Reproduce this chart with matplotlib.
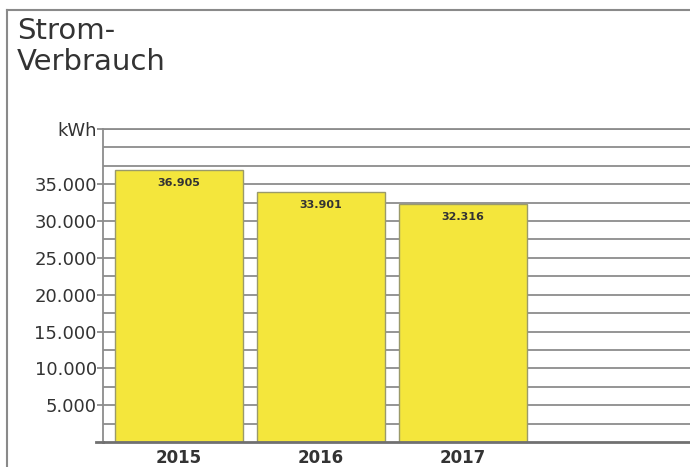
import matplotlib
matplotlib.use("Agg")
import matplotlib.pyplot as plt
from matplotlib.lines import Line2D
import numpy as np

years = ["2015", "2016", "2017"]
values = [36905, 33901, 32316]
value_labels = ["36.905", "33.901", "32.316"]
tick_values = [5000, 10000, 15000, 20000, 25000, 30000, 35000]
tick_labels = ["5.000", "10.000", "15.000", "20.000", "25.000", "30.000", "35.000"]
unit_label = "kWh"
title = "Strom-\nVerbrauch"

W, H = 690, 467
fig = plt.figure(figsize=(W / 100, H / 100), dpi=100)
fig.patch.set_facecolor("white")

# outer frame
fig.add_artist(Line2D([7 / W, 1.0], [1 - 10 / H, 1 - 10 / H], color="#8a8a8a", lw=1.5))
fig.add_artist(Line2D([7 / W, 7 / W], [0, 1 - 10 / H], color="#8a8a8a", lw=1.5))

fig.text(17 / W, 1 - 17 / H, title, ha="left", va="top", fontsize=21,
         color="#333333", linespacing=1.15)

left, right, bottom, top = 103 / W, 1.0, 1 - 442 / H, 1 - 129 / H
ax = fig.add_axes([left, bottom, right - left, top - bottom])
ax.set_facecolor("white")

x = np.arange(len(years))
ax.set_xlim(-0.535, 3.6)
ax.set_ylim(0, 42500)

ax.set_yticks(np.arange(2500, 42501, 2500), minor=True)
ax.yaxis.grid(True, which="both", color="#8c8c8c", lw=1.3)
ax.set_axisbelow(True)

ax.bar(x, values, width=0.9, color="#f4e63c", edgecolor="#9a9a6a", linewidth=1.0, zorder=2)

for xi, v, lab in zip(x, values, value_labels):
    ax.annotate(lab, (xi, v), xytext=(0, -9), textcoords="offset points",
                ha="center", va="center", fontsize=8, fontweight="bold",
                color="#333333", zorder=3)

ax.set_yticks(tick_values + [42500])
ax.set_yticklabels(tick_labels + [unit_label])
ax.tick_params(axis="y", which="major", length=4, color="#8c8c8c", width=1.3,
               labelsize=13, labelcolor="#333333", pad=0.5)
ax.tick_params(axis="y", which="minor", length=0)

ax.set_xticks(x)
ax.set_xticklabels(years)
ax.tick_params(axis="x", length=0, labelsize=12, labelcolor="#333333", pad=5)
for t in ax.get_xticklabels():
    t.set_fontweight("bold")

for s in ["left", "bottom", "top"]:
    ax.spines[s].set_color("#8c8c8c")
    ax.spines[s].set_linewidth(1.3)
ax.spines["right"].set_visible(False)
ax.spines["bottom"].set_color("#707070")
ax.spines["bottom"].set_linewidth(2)

# bottom axis extends slightly to the left
ax.plot([-0.585, -0.535], [0, 0], color="#707070", lw=2, clip_on=False)

fig.savefig("out.png", dpi=100, facecolor="white")
